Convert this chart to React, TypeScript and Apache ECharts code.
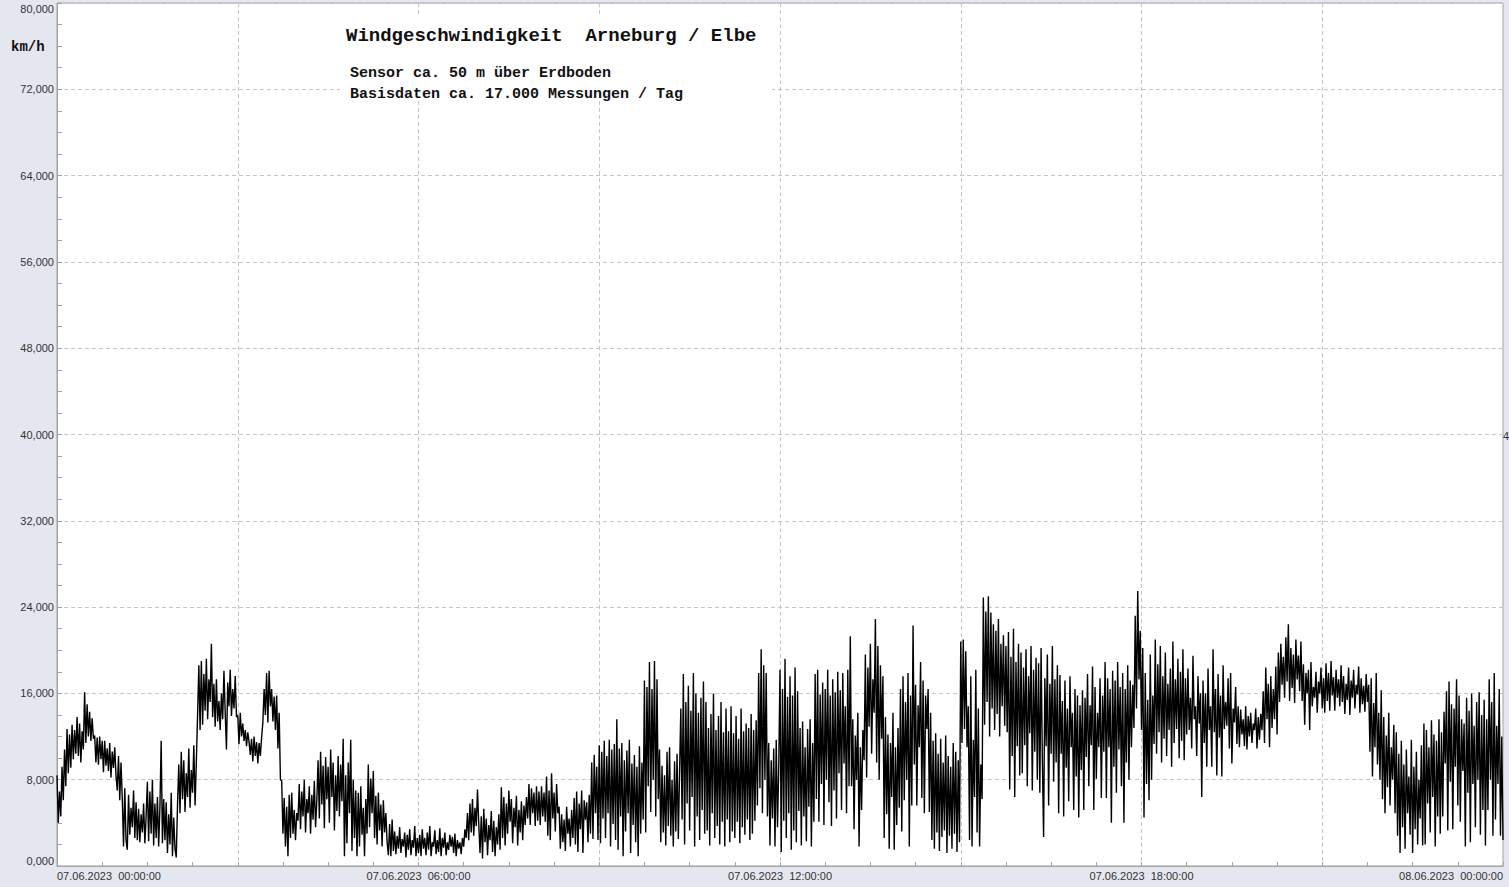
import { useEffect, useRef } from "react";
import * as echarts from "echarts";

// Wind speed in km/h, 48 readings per hour (75 s spacing), 07.06.2023 00:00 .. 08.06.2023 00:00
const h00 = [8.4, 4.0, 6.9, 4.6, 9.2, 6.1, 10.8, 7.4, 12.7, 8.6, 12.2, 9.1, 13.1, 9.9, 12.6, 10.4, 13.8, 10.2, 13.2, 9.6, 12.5, 10.8, 16.1, 11.4, 15.0, 12.0, 14.3, 11.6, 13.7, 11.8, 12.1, 9.6, 11.9, 9.4, 12.0, 9.9, 11.6, 8.7, 11.6, 9.3, 10.9, 8.8, 11.4, 8.2, 10.6, 9.1, 11.0, 8.4];
const h01 = [7.0, 10.2, 6.1, 9.6, 6.3, 1.8, 7.2, 2.4, 1.5, 6.6, 2.9, 5.4, 3.6, 7.0, 2.6, 5.9, 2.4, 5.3, 2.2, 4.8, 3.1, 5.8, 2.1, 4.6, 7.8, 2.3, 6.9, 3.0, 8.0, 1.9, 5.8, 2.6, 6.4, 1.8, 5.5, 11.6, 2.1, 6.2, 2.4, 5.9, 1.2, 4.8, 2.0, 6.8, 0.9, 4.5, 1.6, 0.8];
const h02 = [5.6, 9.4, 4.9, 10.6, 6.2, 9.8, 5.0, 8.6, 6.4, 10.9, 5.4, 8.9, 6.8, 11.2, 5.6, 9.6, 14.0, 18.6, 12.6, 19.0, 13.1, 17.8, 14.4, 19.2, 13.6, 17.3, 15.2, 20.6, 13.8, 16.9, 12.9, 17.3, 13.4, 15.3, 12.6, 16.0, 13.6, 18.1, 14.2, 10.8, 17.0, 14.8, 18.2, 13.9, 16.4, 14.6, 17.6, 13.8];
const h03 = [14.0, 11.3, 14.2, 12.0, 13.2, 11.6, 12.6, 11.1, 12.4, 11.5, 10.3, 11.8, 9.7, 12.0, 10.2, 11.5, 9.5, 11.4, 10.2, 11.9, 13.3, 16.4, 14.0, 17.9, 13.3, 18.1, 14.8, 16.4, 13.4, 15.7, 12.6, 15.8, 10.9, 14.2, 8.0, 7.9, 3.0, 6.3, 1.8, 5.5, 0.9, 6.6, 2.6, 6.8, 3.0, 5.2, 2.4, 4.9];
const h04 = [4.2, 7.6, 3.4, 6.9, 4.6, 8.0, 3.1, 6.2, 4.9, 7.4, 3.0, 6.6, 4.3, 7.9, 3.6, 6.1, 9.8, 4.4, 10.6, 5.7, 9.3, 3.5, 10.1, 6.2, 9.2, 4.0, 10.8, 6.4, 9.6, 3.3, 8.4, 5.1, 10.2, 4.6, 9.4, 6.0, 11.8, 0.9, 8.4, 2.1, 9.6, 4.9, 11.7, 1.4, 8.0, 2.6, 7.0, 0.9];
const h05 = [6.8, 1.8, 7.4, 2.9, 5.4, 0.9, 6.2, 3.0, 9.4, 3.6, 8.1, 4.9, 8.8, 2.6, 6.5, 2.0, 6.8, 3.3, 5.7, 1.8, 6.1, 3.1, 4.9, 2.2, 1.0, 3.9, 0.9, 4.3, 1.4, 3.2, 1.1, 2.8, 1.6, 3.6, 1.2, 2.5, 1.8, 3.1, 0.8, 2.9, 1.5, 3.4, 1.0, 2.4, 1.7, 3.7, 0.9, 2.6];
const h06 = [1.2, 2.9, 0.9, 3.4, 1.6, 2.6, 1.0, 3.1, 1.5, 3.7, 0.9, 2.2, 1.8, 3.3, 1.1, 2.4, 1.3, 3.5, 0.9, 2.6, 1.7, 3.1, 1.0, 2.2, 1.5, 2.9, 1.8, 2.7, 1.2, 3.0, 0.9, 2.4, 1.6, 2.2, 1.1, 2.6, 1.8, 3.4, 2.6, 4.9, 2.4, 5.8, 3.1, 6.2, 2.8, 5.4, 3.7, 7.1];
const h07 = [3.9, 1.2, 4.6, 0.7, 5.3, 2.2, 4.4, 1.0, 3.8, 2.4, 5.1, 1.3, 4.2, 0.9, 3.6, 2.0, 4.8, 1.5, 7.3, 2.6, 6.4, 1.9, 5.8, 3.0, 7.0, 4.1, 6.2, 2.1, 5.4, 3.6, 6.5, 1.9, 5.2, 3.1, 6.0, 2.4, 5.6, 3.8, 6.4, 4.4, 7.6, 3.8, 7.2, 4.9, 6.8, 3.7, 7.4, 4.2];
const h08 = [6.9, 3.8, 7.4, 4.6, 6.8, 4.1, 8.3, 2.8, 7.0, 2.4, 8.6, 4.4, 6.8, 3.2, 7.6, 4.9, 5.5, 1.6, 4.8, 2.2, 4.3, 1.4, 5.5, 3.0, 4.4, 1.8, 5.2, 2.6, 6.3, 2.0, 6.9, 1.3, 5.8, 3.4, 7.0, 1.2, 6.1, 4.3, 5.9, 2.2, 6.6, 3.0, 9.6, 2.5, 10.3, 4.9, 9.2, 2.4];
const h09 = [11.2, 2.1, 10.6, 4.4, 11.6, 2.6, 10.2, 4.9, 11.7, 1.8, 10.8, 3.9, 11.3, 2.4, 13.6, 1.5, 10.9, 4.6, 11.4, 0.9, 9.8, 3.2, 10.7, 4.9, 11.7, 1.2, 9.5, 3.8, 10.3, 2.2, 9.2, 0.9, 11.1, 3.0, 9.6, 4.3, 17.2, 3.1, 16.6, 7.4, 18.9, 5.0, 16.4, 8.0, 19.0, 4.6, 17.3, 6.2];
const h10 = [10.8, 2.2, 9.3, 3.1, 8.4, 1.9, 10.6, 3.7, 11.0, 2.8, 8.0, 1.8, 9.7, 3.2, 10.4, 2.5, 8.8, 14.6, 4.3, 17.8, 2.0, 15.2, 5.8, 16.7, 3.3, 14.4, 6.4, 17.9, 1.8, 16.0, 4.6, 14.2, 2.4, 15.6, 5.2, 17.1, 3.0, 15.2, 3.3, 12.8, 1.9, 14.1, 4.9, 16.0, 2.6, 12.6, 3.7, 13.9];
const h11 = [2.0, 15.2, 4.1, 12.4, 1.8, 14.6, 4.3, 12.5, 2.2, 14.8, 3.2, 12.3, 2.6, 13.9, 4.1, 11.8, 2.1, 14.6, 3.6, 12.5, 2.9, 13.2, 4.3, 12.8, 2.4, 14.1, 3.0, 12.6, 4.2, 13.5, 5.6, 17.9, 7.2, 20.1, 4.9, 18.6, 8.0, 17.9, 4.6, 11.4, 1.9, 9.8, 4.4, 10.9, 1.8, 11.7, 3.6, 9.2];
const h12 = [18.2, 1.3, 16.4, 4.2, 19.2, 2.6, 15.7, 4.9, 17.6, 1.5, 15.8, 3.3, 18.4, 2.2, 16.2, 5.1, 12.8, 1.9, 13.4, 4.6, 11.0, 2.3, 12.7, 5.5, 13.6, 1.8, 11.4, 4.1, 17.8, 6.2, 18.2, 4.1, 15.9, 7.6, 17.0, 3.8, 16.4, 8.0, 18.2, 5.9, 15.8, 3.7, 17.3, 7.0, 16.1, 4.4, 18.0, 8.6];
const h13 = [16.3, 5.2, 17.9, 9.5, 14.8, 4.9, 18.2, 7.4, 21.3, 7.4, 13.6, 3.4, 12.1, 8.0, 14.2, 1.8, 11.0, 5.2, 12.6, 9.8, 19.6, 8.2, 18.4, 12.9, 20.6, 10.4, 17.3, 14.2, 22.9, 9.6, 20.4, 8.0, 18.6, 11.8, 17.6, 2.6, 13.8, 4.8, 12.2, 1.6, 11.4, 6.4, 14.2, 1.5, 11.0, 3.8, 12.8, 5.4];
const h14 = [16.4, 3.2, 17.6, 6.1, 15.2, 8.0, 17.9, 1.8, 15.8, 5.6, 22.3, 9.4, 16.8, 5.6, 14.9, 11.0, 18.9, 6.3, 17.2, 4.9, 15.8, 12.7, 16.4, 5.0, 14.2, 2.4, 11.6, 1.6, 12.3, 3.1, 10.4, 1.4, 11.8, 2.7, 9.6, 3.3, 12.1, 1.2, 10.2, 2.8, 9.2, 1.6, 11.4, 3.0, 10.6, 1.3, 9.8, 2.2];
const h15 = [20.8, 11.4, 21.0, 12.7, 19.9, 11.0, 14.8, 2.4, 17.6, 1.8, 11.7, 6.4, 18.2, 3.1, 14.6, 1.8, 9.4, 6.2, 24.9, 13.1, 23.6, 15.2, 25.0, 12.0, 23.5, 14.6, 22.4, 12.6, 21.8, 14.1, 22.9, 12.0, 20.6, 14.8, 21.4, 13.0, 20.4, 12.4, 21.7, 7.1, 19.4, 10.2, 22.0, 6.4, 18.9, 11.1, 20.6, 8.4];
const h16 = [19.8, 8.6, 18.4, 11.2, 20.1, 7.4, 17.6, 12.3, 20.4, 7.0, 18.2, 10.6, 19.3, 8.0, 18.8, 6.8, 20.2, 9.9, 2.7, 17.4, 11.1, 19.6, 5.6, 16.9, 10.4, 20.4, 7.8, 17.3, 9.6, 18.6, 4.9, 17.7, 10.4, 15.3, 4.6, 17.2, 9.1, 14.6, 6.0, 17.6, 11.0, 14.2, 5.2, 16.4, 8.3, 15.8, 4.5, 14.9];
const h17 = [8.9, 16.3, 5.2, 15.6, 10.1, 17.8, 7.4, 14.9, 11.2, 18.5, 5.2, 16.6, 8.1, 14.2, 11.0, 17.4, 6.3, 15.8, 10.6, 18.9, 6.3, 17.4, 11.0, 16.4, 4.0, 18.1, 9.2, 17.2, 6.8, 18.9, 10.8, 16.6, 7.4, 17.9, 4.0, 16.4, 9.6, 18.6, 8.0, 17.2, 11.0, 16.8, 12.8, 23.2, 14.6, 25.5, 17.3, 21.8];
const h18 = [12.6, 20.2, 4.5, 17.9, 7.6, 15.4, 6.1, 19.6, 8.0, 15.8, 11.3, 21.0, 10.4, 18.7, 12.4, 20.4, 9.6, 17.6, 11.8, 19.8, 10.2, 16.9, 12.6, 18.3, 9.2, 20.8, 11.4, 17.3, 12.7, 19.2, 10.0, 18.0, 11.6, 20.1, 9.8, 17.4, 12.2, 18.3, 12.6, 15.6, 10.9, 19.5, 13.6, 14.8, 10.2, 17.6, 13.2, 16.0];
const h19 = [6.4, 17.2, 11.4, 16.0, 9.2, 18.3, 12.6, 14.8, 9.2, 20.1, 12.4, 16.4, 8.4, 17.8, 11.9, 15.8, 8.3, 18.6, 12.7, 15.2, 13.0, 17.4, 10.9, 17.9, 9.5, 14.6, 13.3, 16.6, 11.3, 14.8, 11.0, 14.5, 12.2, 13.6, 11.1, 14.8, 10.8, 13.9, 12.0, 14.2, 11.4, 13.2, 12.6, 14.6, 10.9, 13.8, 11.7, 14.1];
const h20 = [12.6, 16.2, 11.4, 18.4, 13.6, 16.9, 11.0, 17.6, 12.8, 16.4, 13.6, 18.5, 12.2, 19.8, 15.2, 20.6, 16.8, 19.4, 15.6, 21.2, 17.1, 22.4, 15.3, 20.2, 16.5, 19.6, 15.1, 21.0, 17.3, 19.5, 16.2, 20.8, 15.3, 18.7, 13.1, 17.9, 16.0, 18.2, 12.6, 18.9, 14.8, 16.6, 15.6, 18.0, 14.2, 17.1, 16.0, 18.4];
const h21 = [14.6, 17.4, 14.2, 18.8, 15.3, 17.9, 14.4, 19.0, 15.8, 17.5, 14.4, 18.2, 15.6, 17.3, 14.8, 18.6, 15.2, 17.6, 14.1, 16.9, 15.4, 18.4, 14.0, 17.2, 15.6, 18.2, 14.6, 16.8, 15.9, 18.5, 14.2, 17.4, 15.0, 16.7, 14.3, 17.8, 15.2, 16.8, 10.6, 17.4, 8.3, 15.1, 11.0, 17.9, 9.4, 14.2, 8.0, 16.3];
const h22 = [6.2, 13.8, 4.9, 12.1, 7.3, 14.2, 5.6, 11.0, 8.0, 13.1, 4.9, 12.4, 2.8, 10.4, 1.2, 11.6, 3.6, 9.4, 1.6, 10.8, 4.9, 8.3, 2.9, 11.7, 1.2, 9.2, 3.4, 10.6, 2.0, 8.0, 4.4, 11.2, 1.9, 13.2, 2.0, 12.6, 5.8, 11.0, 3.1, 13.5, 6.4, 12.2, 1.8, 11.6, 4.6, 13.6, 3.0, 12.4];
const h23 = [4.6, 14.3, 9.5, 16.2, 3.3, 17.1, 7.8, 15.0, 3.4, 14.6, 9.2, 17.3, 5.6, 15.8, 4.1, 13.6, 8.8, 13.2, 1.8, 15.6, 6.8, 14.4, 2.2, 16.0, 7.6, 13.0, 3.6, 15.2, 8.0, 16.1, 2.9, 14.0, 5.2, 15.4, 1.9, 13.6, 5.2, 17.3, 8.0, 15.2, 2.8, 17.9, 4.3, 13.0, 7.6, 16.4, 2.8, 12.0, 2.4];

const hourBlocks = [h00, h01, h02, h03, h04, h05, h06, h07, h08, h09, h10, h11, h12, h13, h14, h15, h16, h17, h18, h19, h20, h21, h22, h23];
const READINGS_PER_HOUR = 48;

// Labels on the time axis, one every 6 hours
const timeLabels = [
  "07.06.2023 \u00a000:00:00",
  "07.06.2023 \u00a006:00:00",
  "07.06.2023 \u00a012:00:00",
  "07.06.2023 \u00a018:00:00",
  "08.06.2023 \u00a000:00:00",
];

const Y_MAX = 80;
const Y_STEP = 8;

const title = "Windgeschwindigkeit \u00a0Arneburg / Elbe";
const subtitle1 = "Sensor ca. 50 m über Erdboden";
const subtitle2 = "Basisdaten ca. 17.000 Messungen / Tag";
const unit = "km/h";
const rightEdgeMark = "4";

const BG = "#e4e7ef";
const AXIS_GREY = "#a2a2a2";
const GRID_GREY = "#c6c6c6";
const LABEL_FONT = "Liberation Sans, Arial, sans-serif";
const MONO_FONT = "Liberation Mono, Courier New, monospace";

export default function App() {
  const ref = useRef<HTMLDivElement>(null);

  useEffect(() => {
    if (!ref.current) return;
    const chart = echarts.init(ref.current, undefined, { renderer: "svg" });

    const speeds = hourBlocks.flat();
    const points = speeds.map((v, i) => [i / READINGS_PER_HOUR, v]);

    chart.setOption({
      animation: false,
      backgroundColor: BG,
      grid: {
        left: 57,
        right: 6,
        top: 3,
        bottom: 21,
        show: true,
        backgroundColor: "#ffffff",
        borderColor: AXIS_GREY,
        borderWidth: 1,
      },
      xAxis: {
        type: "value",
        min: 0,
        max: 24,
        interval: 3,
        axisLine: { show: true, lineStyle: { color: AXIS_GREY, width: 1 } },
        axisTick: { show: true, inside: true, length: 4, lineStyle: { color: AXIS_GREY } },
        minorTick: { show: true, splitNumber: 4, length: 4, lineStyle: { color: AXIS_GREY } },
        splitLine: { show: true, lineStyle: { color: GRID_GREY, type: [4, 3], width: 1 } },
        axisLabel: {
          margin: 4,
          fontSize: 11,
          fontFamily: LABEL_FONT,
          color: "#333",
          showMinLabel: true,
          showMaxLabel: true,
          alignMinLabel: "left",
          alignMaxLabel: "right",
          formatter: (v: number) => (v % 6 === 0 ? timeLabels[v / 6] : ""),
        },
      },
      yAxis: {
        type: "value",
        min: 0,
        max: Y_MAX,
        interval: Y_STEP,
        axisLine: { show: true, lineStyle: { color: AXIS_GREY, width: 1 } },
        axisTick: { show: true, inside: true, length: 5, lineStyle: { color: AXIS_GREY } },
        minorTick: { show: true, splitNumber: 4, length: 5, lineStyle: { color: AXIS_GREY } },
        splitLine: { show: true, lineStyle: { color: GRID_GREY, type: [4, 3], width: 1 } },
        axisLabel: {
          margin: 3,
          fontSize: 11,
          fontFamily: LABEL_FONT,
          color: "#333",
          verticalAlignMaxLabel: "top",
          verticalAlignMinLabel: "bottom",
          formatter: (v: number) => v.toFixed(3).replace(".", ","),
        },
      },
      series: [
        {
          type: "line",
          data: points,
          showSymbol: false,
          symbol: "none",
          clip: true,
          lineStyle: { color: "#000000", width: 1.4, join: "miter", miterLimit: 2 },
          emphasis: { disabled: true },
        },
      ],
      graphic: [
        {
          type: "rect",
          shape: { x: 340, y: 14, width: 432, height: 86 },
          style: { fill: "#ffffff" },
          silent: true,
          z: 10,
        },
        {
          type: "text",
          x: 346,
          y: 36,
          style: {
            text: title,
            font: `bold 19px ${MONO_FONT}`,
            fill: "#111",
            verticalAlign: "middle",
          },
          z: 11,
        },
        {
          type: "text",
          x: 350,
          y: 73,
          style: {
            text: subtitle1,
            font: `bold 15px ${MONO_FONT}`,
            fill: "#111",
            verticalAlign: "middle",
          },
          z: 11,
        },
        {
          type: "text",
          x: 350,
          y: 94,
          style: {
            text: subtitle2,
            font: `bold 15px ${MONO_FONT}`,
            fill: "#111",
            verticalAlign: "middle",
          },
          z: 11,
        },
        {
          type: "text",
          x: 11,
          y: 47,
          style: {
            text: unit,
            font: `bold 14px ${MONO_FONT}`,
            fill: "#111",
            verticalAlign: "middle",
          },
          z: 11,
        },
        {
          type: "text",
          x: 1503,
          y: 436,
          style: {
            text: rightEdgeMark,
            font: `11px ${LABEL_FONT}`,
            fill: "#333",
            verticalAlign: "middle",
          },
          z: 11,
        },
      ],
    });

    return () => chart.dispose();
  }, []);

  return (
    <div
      ref={ref}
      style={{ position: "absolute", left: 0, top: 0, width: 1509, height: 887 }}
    />
  );
}
